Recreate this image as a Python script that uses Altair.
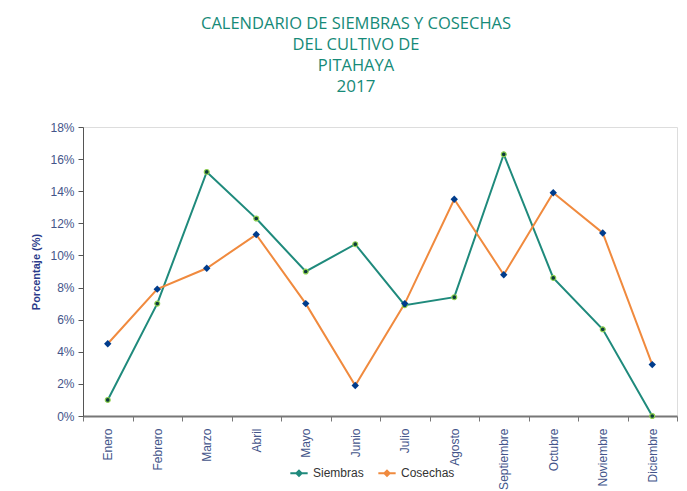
import altair as alt
import pandas as pd

meses = ["Enero", "Febrero", "Marzo", "Abril", "Mayo", "Junio", "Julio",
         "Agosto", "Septiembre", "Octubre", "Noviembre", "Diciembre"]
siembras = [1.0, 7.0, 15.2, 12.3, 9.0, 10.7, 6.9, 7.4, 16.3, 8.6, 5.4, 0.0]
cosechas = [4.5, 7.9, 9.2, 11.3, 7.0, 1.9, 7.0, 13.5, 8.8, 13.9, 11.4, 3.2]
series = ["Siembras", "Cosechas"]
y_ticks = [0, 2, 4, 6, 8, 10, 12, 14, 16, 18]
title_lines = ["CALENDARIO DE SIEMBRAS Y COSECHAS", "DEL CULTIVO DE", "PITAHAYA"]
subtitle = "2017"

df = pd.DataFrame({
    "Mes": meses * 2,
    "Serie": [series[0]] * 12 + [series[1]] * 12,
    "Valor": siembras + cosechas,
    "orden": list(range(12)) * 2,
})

label_color = "#44558a"
font = "Liberation Sans"

x_enc = alt.X("Mes:N", sort=meses, title=None,
              scale=alt.Scale(paddingInner=0, paddingOuter=0),
              axis=alt.Axis(labelAngle=-90, labelFont=font, labelFontSize=12,
                            labelColor=label_color, tickBand="extent",
                            domainColor="#777777", domainWidth=2,
                            tickColor="#777777", tickSize=5, labelPadding=7,
                            grid=False, labelBaseline="middle", labelAlign="right"))
y_enc = alt.Y("Valor:Q", title="Porcentaje (%)",
              scale=alt.Scale(domain=[0, 18]),
              axis=alt.Axis(values=y_ticks, labelExpr="datum.value + '%'",
                            labelFont=font, labelFontSize=12, labelColor=label_color,
                            labelPadding=4,
                            titleFont=font, titleFontSize=11, titleFontWeight="bold",
                            titleColor="#2a3a8a", titlePadding=8,
                            domainColor="#555555", tickColor="#555555", tickSize=5,
                            grid=False))

color = alt.Color("Serie:N", sort=series,
                  scale=alt.Scale(domain=series, range=["#1f8a7c", "#f08a3e"]),
                  legend=alt.Legend(title=None, orient="none", direction="horizontal",
                                    legendX=206, legendY=336,
                                    symbolType="M-1,0L1,0M0,-0.3L0.3,0L0,0.3L-0.3,0Z",
                                    symbolSize=300, symbolStrokeWidth=2,
                                    labelFont=font, labelFontSize=12,
                                    labelColor="#333333", columnPadding=10))

base = alt.Chart(df)
lines = base.mark_line(strokeWidth=2).encode(
    x=x_enc, y=y_enc, color=color, order="orden:Q", detail="Serie:N")

pts_s = base.transform_filter(alt.datum.Serie == "Siembras").mark_point(
    shape="circle", filled=True, size=24, fill="#0b3b3b", stroke="#8fd14f",
    strokeWidth=1.2, opacity=1).encode(x=x_enc, y=y_enc)
pts_c = base.transform_filter(alt.datum.Serie == "Cosechas").mark_point(
    shape="diamond", filled=True, size=55, fill="#003c8c", opacity=1).encode(x=x_enc, y=y_enc)

chart = alt.layer(lines, pts_s, pts_c).properties(
    width=594, height=289,
    title=alt.TitleParams(text=title_lines, subtitle=subtitle,
                          font="Open Sans", fontSize=16.5, fontWeight=500,
                          color="#168a78", lineHeight=21,
                          subtitleFont="Open Sans", subtitleFontSize=17,
                          subtitleFontWeight=500,
                          subtitleColor="#168a78", subtitlePadding=5,
                          anchor="middle", dx=-24, offset=26),
).configure_view(stroke=None).configure(padding={"left": 22, "right": 0, "top": 7, "bottom": 0})

chart.save("out.html", embed_options={"renderer": "svg", "actions": False})
